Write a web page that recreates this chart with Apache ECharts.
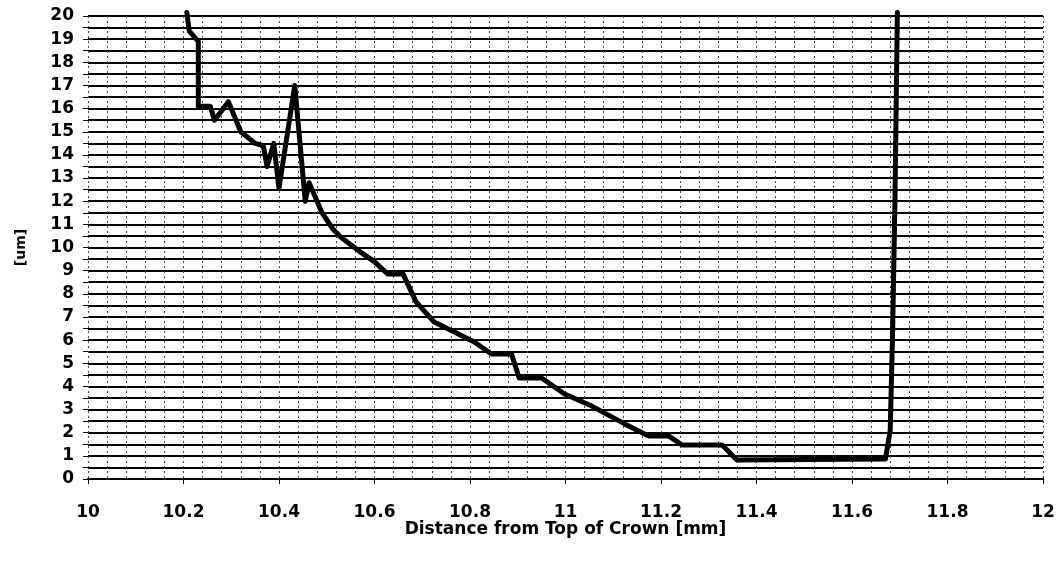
<!DOCTYPE html>
<html>
<head>
<meta charset="utf-8">
<script src="https://cdn.jsdelivr.net/npm/echarts@6/dist/echarts.min.js"></script>
<style>
  html, body { margin: 0; padding: 0; background: #fff; }
  #chart { width: 1062px; height: 562px; }
</style>
</head>
<body>
<div id="chart"></div>
<script>
// distance from top of crown [mm]
var distance = [10.207, 10.212, 10.231, 10.231, 10.256, 10.265, 10.294, 10.32, 10.35, 10.367,
  10.375, 10.389, 10.40, 10.433, 10.455, 10.463, 10.49, 10.513, 10.529, 10.571,
  10.599, 10.628, 10.66, 10.687, 10.725, 10.809, 10.845, 10.887, 10.903, 10.95,
  10.998, 11.055, 11.124, 11.174, 11.216, 11.244, 11.328, 11.359, 11.67, 11.68,
  11.685, 11.69, 11.695];
// [um]
var thickness = [20.15, 19.35, 18.9, 16.1, 16.1, 15.5, 16.3, 15.0, 14.5, 14.4,
  13.5, 14.5, 12.55, 17.0, 12.0, 12.8, 11.5, 10.8, 10.45, 9.8,
  9.4, 8.85, 8.85, 7.65, 6.78, 5.92, 5.4, 5.4, 4.36, 4.36,
  3.67, 3.15, 2.38, 1.86, 1.86, 1.47, 1.47, 0.82, 0.86, 2.1,
  6.3, 12.1, 20.15];

var font = 'DejaVu Sans';
var points = distance.map(function (d, i) { return [d, thickness[i]]; });

var chart = echarts.init(document.getElementById('chart'));
chart.setOption({
  animation: false,
  backgroundColor: '#fff',
  grid: {
    left: 88,
    right: 19,
    top: 16,
    bottom: 83
  },
  xAxis: {
    type: 'value',
    min: 10,
    max: 12,
    interval: 0.2,
    name: 'Distance from Top of Crown [mm]',
    nameLocation: 'middle',
    nameGap: 42,
    nameMoveOverlap: false,
    nameTextStyle: { fontFamily: font, fontWeight: 'bold', fontSize: 17, color: '#000' },
    axisLine: { show: true, lineStyle: { color: '#000', width: 2 } },
    axisTick: { show: true, length: 5, lineStyle: { color: '#000', width: 1 } },
    axisLabel: {
      margin: 25,
      fontFamily: font, fontWeight: 'bold', fontSize: 17, color: '#000',
      formatter: function (v) { return String(+v.toFixed(1)); }
    },
    splitLine: { show: true, lineStyle: { color: '#444', width: 1, type: [2, 3] } },
    minorTick: { show: false, splitNumber: 5 },
    minorSplitLine: { show: true, lineStyle: { color: '#444', width: 1, type: [2, 3] } }
  },
  yAxis: {
    type: 'value',
    min: 0,
    max: 20,
    interval: 0.5,
    name: '[um]',
    nameLocation: 'middle',
    nameGap: 60,
    nameMoveOverlap: false,
    nameRotate: 90,
    nameTextStyle: { fontFamily: font, fontWeight: 'bold', fontSize: 14, color: '#000' },
    axisLine: { show: false },
    axisTick: { show: true, length: 5, lineStyle: { color: '#000' } },
    axisLabel: {
      margin: 14,
      fontFamily: font, fontWeight: 'bold', fontSize: 17, color: '#000',
      formatter: function (v) { return v % 1 === 0 ? String(v) : ''; }
    },
    splitLine: { show: true, lineStyle: { color: '#000', width: 2 } }
  },
  series: [{
    type: 'line',
    data: points,
    clip: false,
    symbol: 'none',
    lineStyle: { color: '#000', width: 5, join: 'round', cap: 'round' }
  }]
});
</script>
</body>
</html>
